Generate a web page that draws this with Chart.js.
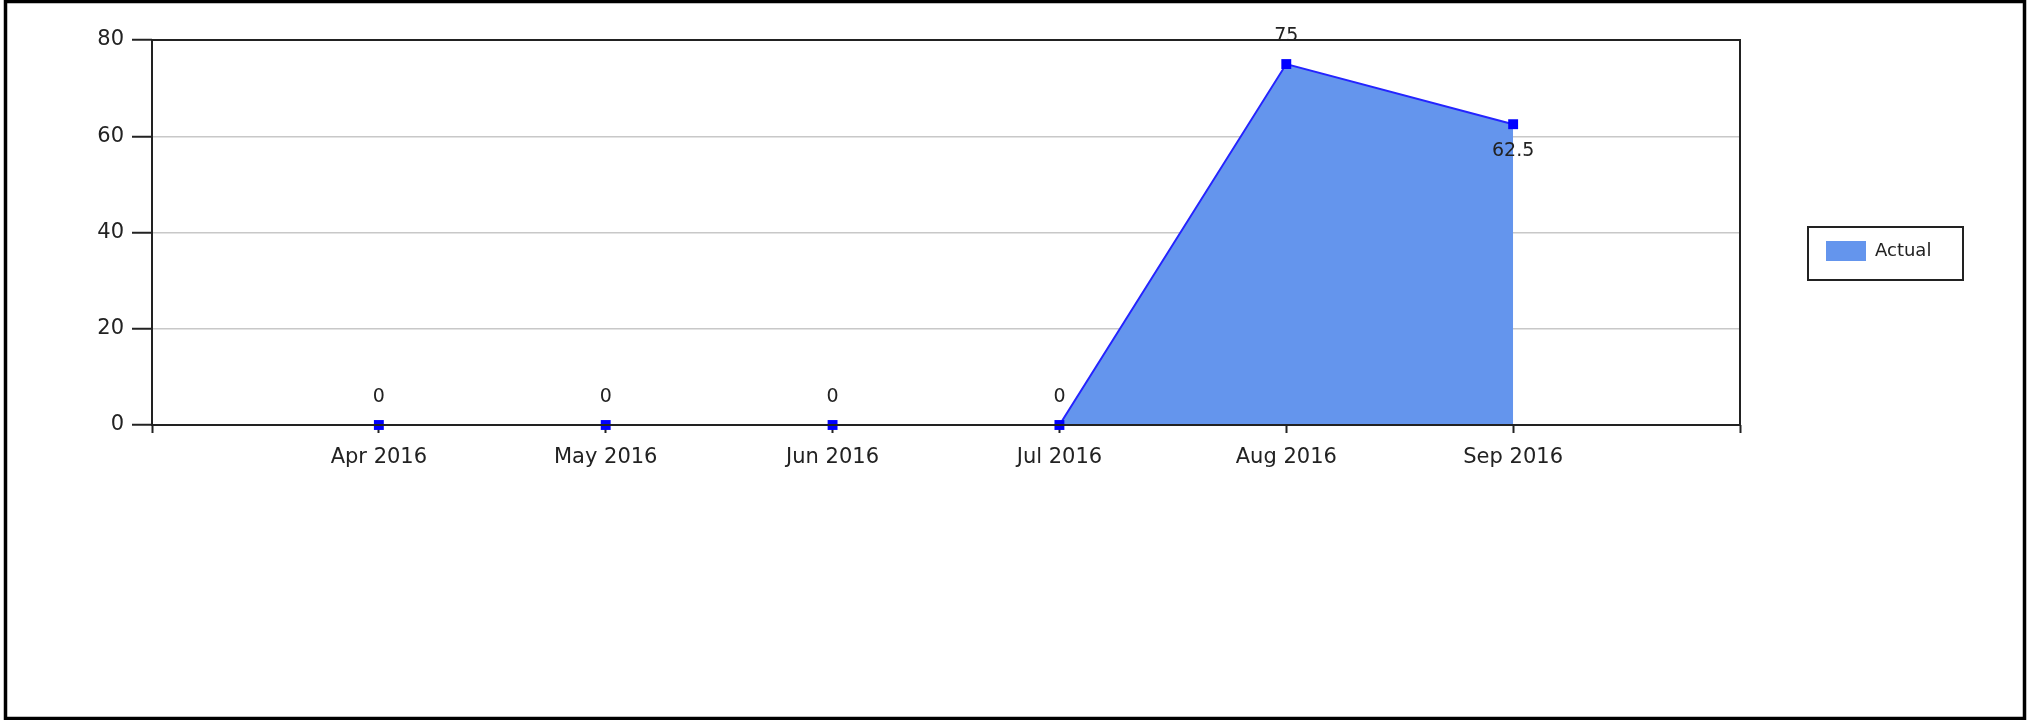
<!DOCTYPE html>
<html>
<head>
<meta charset="utf-8">
<title>Actual by month</title>
<script src="https://cdn.jsdelivr.net/npm/chart.js@4.4.1/dist/chart.umd.min.js"></script>
<style>
  html, body { margin: 0; padding: 0; background: #ffffff; }
  #wrap { width: 2043px; height: 720px; }
  canvas { display: block; }
</style>
</head>
<body>
<div id="wrap"><canvas id="chart" width="2043" height="720"></canvas></div>
<script>
// Months on the category axis
const categories = ['Apr 2016', 'May 2016', 'Jun 2016', 'Jul 2016', 'Aug 2016', 'Sep 2016'];
// Values of the "Actual" series, one per month
const actualValues = [0, 0, 0, 0, 75, 62.5];
// Value-axis ticks
const yTicks = [0, 20, 40, 60, 80];
const seriesName = 'Actual';

// Category axis gets an empty slot at each end so the points sit inside the plot
const axisLabels = [''].concat(categories, ['']);
const axisData = [null].concat(actualValues, [null]);

const INK = '#222222';
const FONT = 'DejaVu Sans';
Chart.defaults.font.family = FONT;
Chart.defaults.color = INK;

// White page with a heavy black frame round the whole picture
const pageFrame = {
  id: 'pageFrame',
  beforeDraw(chart) {
    const c = chart.ctx;
    c.save();
    c.fillStyle = '#ffffff';
    c.fillRect(0, 0, chart.width, chart.height);
    c.restore();
  },
  afterDraw(chart) {
    const c = chart.ctx;
    c.save();
    c.strokeStyle = '#000000';
    c.lineWidth = 3.5;
    c.strokeRect(5.5, 1.5, 2019, 717);
    c.restore();
  }
};

// Box round the plot area, drawn over the area fill so the zero line stays black
const plotBox = {
  id: 'plotBox',
  afterDatasetsDraw(chart) {
    const a = chart.chartArea;
    const c = chart.ctx;
    c.save();
    c.strokeStyle = INK;
    c.lineWidth = 2;
    c.strokeRect(a.left, a.top, a.right - a.left, a.bottom - a.top);
    c.restore();
  }
};

// Value labels: above each point, below it when the line comes down into it
const valueLabels = {
  id: 'valueLabels',
  afterDatasetsDraw(chart) {
    const meta = chart.getDatasetMeta(0);
    const data = chart.data.datasets[0].data;
    const c = chart.ctx;
    c.save();
    c.font = '19px "' + FONT + '"';
    c.fillStyle = INK;
    c.textAlign = 'center';
    c.textBaseline = 'middle';
    meta.data.forEach((pt, i) => {
      const v = data[i];
      if (v === null || v === undefined) return;
      const prev = i > 0 ? data[i - 1] : null;
      const below = prev !== null && prev !== undefined && v < prev;
      c.fillText(String(v), pt.x, below ? pt.y + 27 : pt.y - 28);
    });
    c.restore();
  }
};

// Legend sits to the right of the plot inside a thin box
const legendBox = {
  id: 'legendBox',
  afterLayout(chart) {
    const lg = chart.legend;
    if (!lg) return;
    lg.left = 1826;
    lg.top = 241;
    lg.right = lg.left + 200;
    lg.bottom = lg.top + 40;
    lg.width = 200;
    lg.height = 40;
  },
  afterDraw(chart) {
    const lg = chart.legend;
    if (!lg) return;
    const c = chart.ctx;
    c.save();
    c.strokeStyle = INK;
    c.lineWidth = 2;
    c.strokeRect(lg.left - 18, lg.top - 14, 155, 53);
    c.restore();
  }
};

new Chart(document.getElementById('chart'), {
  type: 'line',
  data: {
    labels: axisLabels,
    datasets: [{
      label: seriesName,
      data: axisData,
      borderColor: '#2424ff',
      borderWidth: 2,
      backgroundColor: '#6495ED',
      fill: 'origin',
      tension: 0,
      pointStyle: 'rect',
      pointRadius: 7,
      pointHoverRadius: 7,
      pointBorderWidth: 0,
      pointBackgroundColor: '#0000ff',
      clip: false
    }]
  },
  options: {
    responsive: false,
    animation: false,
    events: [],
    layout: { padding: { top: 40, left: 0, right: 303, bottom: 0 } },
    scales: {
      x: {
        type: 'category',
        offset: false,
        afterFit(scale) { scale.height = 295; },
        border: { display: false },
        grid: {
          drawOnChartArea: false,
          drawTicks: true,
          tickLength: 8,
          tickColor: INK,
          tickWidth: 2
        },
        ticks: {
          autoSkip: false,
          maxRotation: 0,
          minRotation: 0,
          padding: 12,
          color: INK,
          font: { size: 21, family: FONT }
        }
      },
      y: {
        min: yTicks[0],
        max: yTicks[yTicks.length - 1],
        afterFit(scale) { scale.width = 152; },
        afterBuildTicks(scale) { scale.ticks = yTicks.map(v => ({ value: v })); },
        border: { display: false },
        grid: {
          color: ctx => (ctx.tick && (ctx.tick.value === yTicks[0] || ctx.tick.value === yTicks[yTicks.length - 1]))
            ? 'rgba(0,0,0,0)' : '#c8c8c8',
          lineWidth: 1.5,
          drawTicks: true,
          tickLength: 20,
          tickColor: INK,
          tickWidth: 2
        },
        ticks: {
          padding: 8,
          color: INK,
          font: { size: 21, family: FONT }
        }
      }
    },
    plugins: {
      title: { display: false },
      tooltip: { enabled: false },
      legend: {
        display: true,
        position: 'chartArea',
        align: 'start',
        labels: {
          boxWidth: 40,
          boxHeight: 20,
          padding: 0,
          color: INK,
          font: { size: 18, family: FONT },
          generateLabels(chart) {
            const items = Chart.defaults.plugins.legend.labels.generateLabels(chart);
            return items.map(it => Object.assign(it, { lineWidth: 0, strokeStyle: 'rgba(0,0,0,0)' }));
          }
        }
      }
    }
  },
  plugins: [pageFrame, plotBox, valueLabels, legendBox]
});
</script>
</body>
</html>
